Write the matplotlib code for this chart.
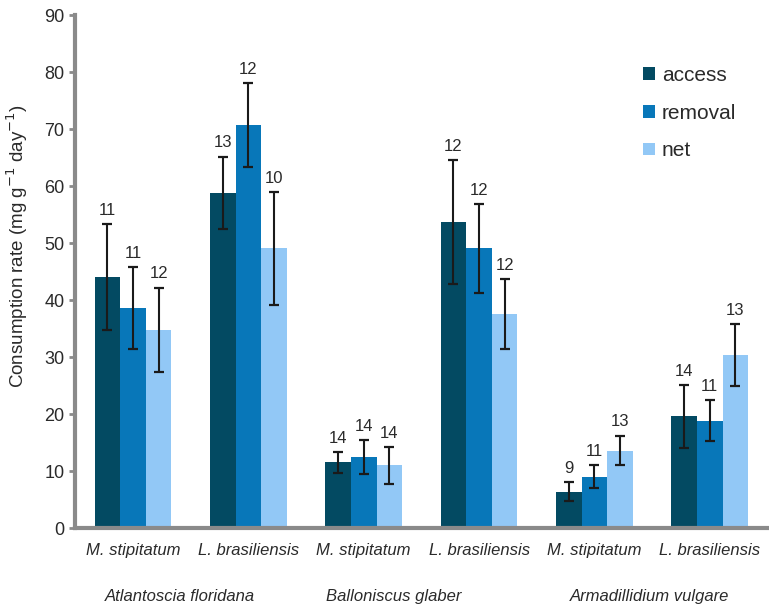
import numpy as np
import matplotlib
matplotlib.use("Agg")
import matplotlib.pyplot as plt

plt.rcParams['font.family'] = ['Liberation Sans', 'DejaVu Sans']

plants = ["M. stipitatum", "L. brasiliensis", "M. stipitatum", "L. brasiliensis",
          "M. stipitatum", "L. brasiliensis"]
isopods = ["Atlantoscia floridana", "Balloniscus glaber", "Armadillidium vulgare"]
series = ["access", "removal", "net"]

access = [44.1, 58.8, 11.5, 53.7, 6.4, 19.6]
removal = [38.6, 70.7, 12.4, 49.1, 9.0, 18.8]
net = [34.8, 49.1, 11.0, 37.6, 13.6, 30.4]

access_err = [9.3, 6.4, 1.8, 10.9, 1.7, 5.5]
removal_err = [7.2, 7.4, 3.0, 7.8, 2.0, 3.6]
net_err = [7.4, 9.9, 3.2, 6.1, 2.6, 5.4]

access_n = [11, 13, 14, 12, 9, 14]
removal_n = [11, 12, 14, 12, 11, 11]
net_n = [12, 10, 14, 12, 13, 13]

colors = ["#034a62", "#0877b9", "#92c8f6"]
axis_grey = "#8a8a8a"
text_color = "#2a2a2a"

fig = plt.figure(figsize=(7.69, 6.09), dpi=100)
ax = fig.add_axes([0.098, 0.133, 0.9, 0.842])

x = np.arange(len(plants))
width = 0.222
values = [access, removal, net]
errors = [access_err, removal_err, net_err]
counts = [access_n, removal_n, net_n]

for i, (vals, errs, ns, c, name) in enumerate(zip(values, errors, counts, colors, series)):
    pos = x + (i - 1) * width
    ax.bar(pos, vals, width, color=c, label=name, zorder=2)
    ax.errorbar(pos, vals, yerr=errs, fmt="none", ecolor="#1a1a1a",
                elinewidth=1.5, capsize=3.6, capthick=1.6, zorder=3)
    for p, v, e, n in zip(pos, vals, errs, ns):
        ax.annotate(str(n), (p, v + e), xytext=(0, 4.5), textcoords="offset points",
                    ha="center", va="bottom", fontsize=12, color=text_color)

ax.set_xlim(-0.5, len(plants) - 0.5)
ax.set_ylim(0, 90)
ax.set_yticks(np.arange(0, 91, 10))
ax.tick_params(axis="y", labelsize=13, colors=text_color, length=4, width=2,
               color=axis_grey, pad=4)
ax.tick_params(axis="x", length=0, pad=11)
ax.set_xticks(x)
ax.set_xticklabels(plants, style="italic", fontsize=12, color=text_color)

for side in ("top", "right"):
    ax.spines[side].set_visible(False)
for side in ("left", "bottom"):
    ax.spines[side].set_color(axis_grey)
    ax.spines[side].set_linewidth(3)

ax.set_ylabel("Consumption rate (mg g$^{-1}$ day$^{-1}$)", fontsize=13.5,
              color=text_color)
ax.yaxis.set_label_coords(-0.066, 0.55)

# isopod species names under each pair of plant labels
group_x = [0.41, 2.26, 4.48]
for gx, name in zip(group_x, isopods):
    ax.text(gx, -0.133, name, transform=ax.get_xaxis_transform(), ha="center",
            va="center", style="italic", fontsize=12, color=text_color)

leg = ax.legend(loc="upper left", bbox_to_anchor=(0.820, 0.901), frameon=False,
                fontsize=15, handlelength=0.56, handleheight=0.56,
                handletextpad=0.35, labelspacing=0.9, borderpad=0,
                borderaxespad=0)
for t in leg.get_texts():
    t.set_color(text_color)

fig.savefig("out.png", dpi=100)
